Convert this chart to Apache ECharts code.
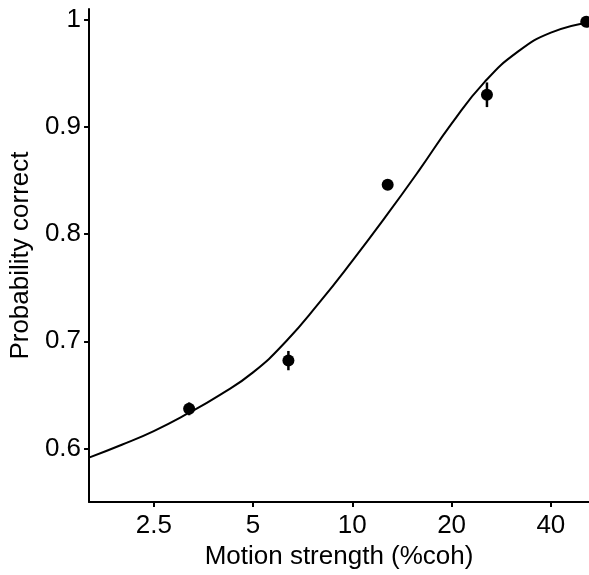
<!DOCTYPE html>
<html>
<head>
<meta charset="utf-8">
<script src="https://cdn.jsdelivr.net/npm/echarts@6/dist/echarts.min.js"></script>
<style>
html,body{margin:0;padding:0;background:#fff;}
#chart{width:589px;height:575px;}
</style>
</head>
<body>
<div id="chart"></div>
<script>
// Observed data
const coherence = [3.2, 6.4, 12.8, 25.6, 51.2];
const pCorrect = [0.637, 0.682, 0.846, 0.930, 0.998];
const pErr = [0.006, 0.009, 0.003, 0.0115, 0.002];
// Fitted curve
const fitX = [1.59, 2.0, 2.5, 3.15, 3.97, 5.0, 6.3, 7.94, 10, 12.6, 15.9, 20, 25.2, 31.7, 40, 52.2];
const fitY = [0.5915, 0.6035, 0.6163, 0.6322, 0.650, 0.671, 0.700, 0.736, 0.775, 0.816, 0.859, 0.903, 0.942, 0.970, 0.988, 0.9975];
// Tick labels
const xTicks = [2.5, 5, 10, 20, 40];
const yTicks = [0.6, 0.7, 0.8, 0.9, 1];

const FONT = 'Liberation Sans';
const chart = echarts.init(document.getElementById('chart'), null, {renderer: 'canvas'});
const points = coherence.map((c, i) => [c, pCorrect[i]]);
const errs = coherence.map((c, i) => [c, pCorrect[i] - pErr[i], pCorrect[i] + pErr[i]]);
const fit = fitX.map((x, i) => [x, fitY[i]]);

chart.setOption({
  animation: false,
  backgroundColor: '#fff',
  grid: {left: 87, right: 0, top: 9, bottom: 66, containLabel: false},
  xAxis: {
    type: 'log', logBase: 10, min: 1.591, max: 52.2,
    name: 'Motion strength (%coh)', nameLocation: 'middle', nameGap: 33,
    nameTextStyle: {fontFamily: FONT, fontSize: 26, color: '#000'},
    axisLine: {lineStyle: {color: '#000', width: 2}},
    axisTick: {show: true, length: 5, lineStyle: {color: '#000', width: 2}, customValues: xTicks},
    axisLabel: {fontFamily: FONT, fontSize: 26, color: '#000', margin: 11, customValues: xTicks,
      formatter: v => String(Math.round(v * 10) / 10)},
    splitLine: {show: false},
    minorTick: {show: false}
  },
  yAxis: {
    type: 'value', min: 0.55, max: 1.01,
    name: 'Probability correct', nameLocation: 'middle', nameGap: 52,
    nameTextStyle: {fontFamily: FONT, fontSize: 26, color: '#000'},
    axisLine: {show: true, lineStyle: {color: '#000', width: 2}},
    axisTick: {show: true, length: 5, lineStyle: {color: '#000', width: 2}, customValues: yTicks},
    axisLabel: {fontFamily: FONT, fontSize: 26, color: '#000', margin: 8, customValues: yTicks,
      formatter: v => String(Math.round(v * 10) / 10)},
    splitLine: {show: false}
  },
  series: [
    {
      type: 'line', data: fit, smooth: 0.5, showSymbol: false, clip: true,
      lineStyle: {color: '#000', width: 2}, z: 2
    },
    {
      type: 'custom', data: errs, z: 3, clip: false,
      renderItem: (params, api) => {
        const lo = api.coord([api.value(0), api.value(1)]);
        const hi = api.coord([api.value(0), api.value(2)]);
        return {type: 'line', shape: {x1: lo[0], y1: lo[1], x2: hi[0], y2: hi[1]},
          style: {stroke: '#000', lineWidth: 2.5}};
      }
    },
    {
      type: 'scatter', data: points, symbol: 'circle', symbolSize: 12, z: 4,
      itemStyle: {color: '#000', opacity: 1}
    }
  ]
});
</script>
</body>
</html>
